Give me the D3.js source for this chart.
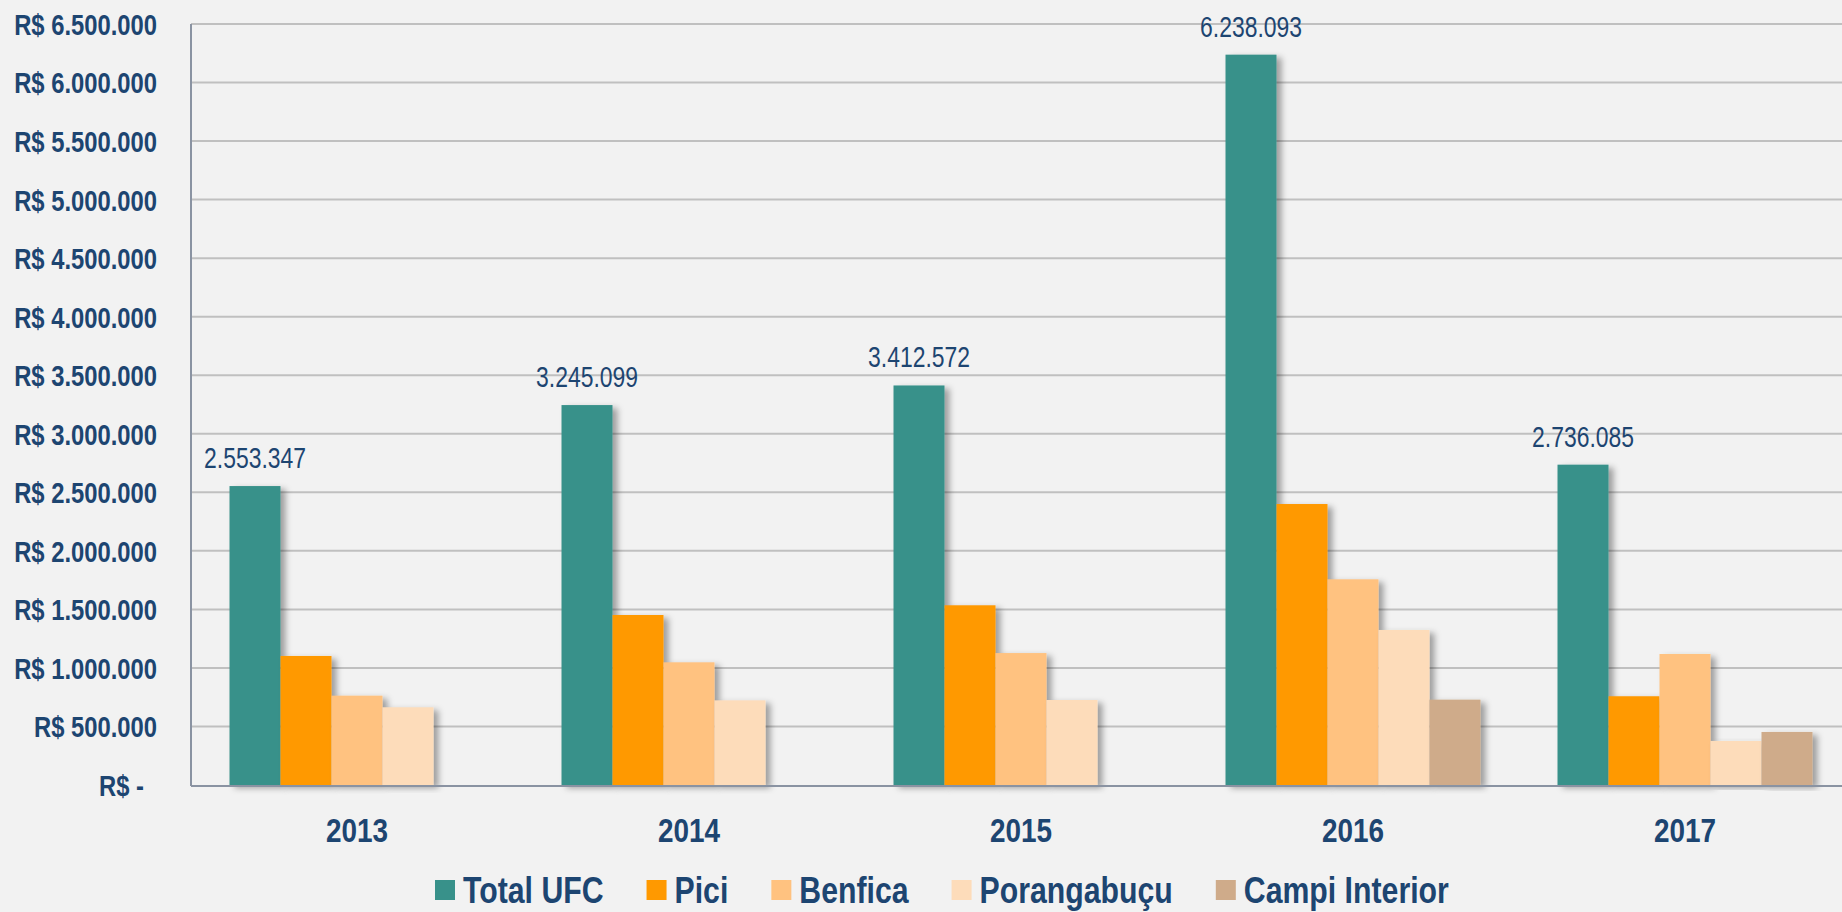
<!DOCTYPE html>
<html>
<head>
<meta charset="utf-8">
<script src="https://cdn.jsdelivr.net/npm/d3@7"></script>
<style>
  html, body { margin: 0; padding: 0; background: #f2f2f2; }
  svg { display: block; }
  text { font-family: "Liberation Sans Narrow", "Arial Narrow", "Liberation Sans", Arial, sans-serif; fill: #1d4571; }
</style>
</head>
<body>
<svg id="chart"></svg>
<script>
// categories and series
const years = ['2013', '2014', '2015', '2016', '2017']
const seriesNames = ['Total UFC', 'Pici', 'Benfica', 'Porangabuçu', 'Campi Interior']
const seriesColors = ['#38918a', '#ff9900', '#ffc280', '#fddcba', '#cfab8a']

// values (only Total UFC is printed)
const totalUFC = [2553347, 3245099, 3412572, 6238093, 2736085]
const pici = [1102000, 1452000, 1535000, 2400000, 758000]
const benfica = [763000, 1048000, 1127000, 1757000, 1119000]
const porangabucu = [664000, 723000, 726000, 1324000, 376000]
const campiInterior = [null, null, null, 729000, 453000]

const yTicks = [0, 500000, 1000000, 1500000, 2000000, 2500000, 3000000, 3500000,
  4000000, 4500000, 5000000, 5500000, 6000000, 6500000]
const yTickLabels = ['R$ -', 'R$ 500.000', 'R$ 1.000.000', 'R$ 1.500.000', 'R$ 2.000.000',
  'R$ 2.500.000', 'R$ 3.000.000', 'R$ 3.500.000', 'R$ 4.000.000', 'R$ 4.500.000',
  'R$ 5.000.000', 'R$ 5.500.000', 'R$ 6.000.000', 'R$ 6.500.000']

const allSeries = [totalUFC, pici, benfica, porangabucu, campiInterior]

const W = 1842, H = 912
const plot = { left: 191, right: 1851, top: 24, bottom: 785 }

// the original text is a narrow face; squeeze the regular one if that is what we got
function squeeze(sel, ratio) {
  sel.each(function() {
    const w = this.getComputedTextLength()
    d3.select(this).attr('textLength', w * ratio).attr('lengthAdjust', 'spacingAndGlyphs')
  })
}

const svg = d3.select('#chart').attr('width', W).attr('height', H)

// drop shadow for the bars
const defs = svg.append('defs')
const f = defs.append('filter').attr('id', 'shadow')
  .attr('x', '-20%').attr('y', '-5%').attr('width', '150%').attr('height', '115%')
f.append('feDropShadow').attr('dx', 5).attr('dy', 3).attr('stdDeviation', 3)
  .attr('flood-color', '#000').attr('flood-opacity', 0.35)

const x0 = d3.scaleBand()
  .domain(years)
  .range([plot.left, plot.right])
  .paddingInner(0.232)
  .paddingOuter(0.116)

const x1 = d3.scaleBand()
  .domain(seriesNames)
  .range([0, x0.bandwidth()])

const y = d3.scaleLinear()
  .domain([0, 6500000])
  .range([plot.bottom, plot.top])

// gridlines
svg.append('g')
  .selectAll('line')
  .data(yTicks.slice(1))
  .join('line')
  .attr('x1', plot.left).attr('x2', W)
  .attr('y1', d => y(d)).attr('y2', d => y(d))
  .attr('stroke', '#c0c0c0').attr('stroke-width', 2)

// y axis labels
const yAxis = d3.axisLeft(y)
  .tickValues(yTicks)
  .tickFormat((d, i) => yTickLabels[i])
  .tickSize(0)
  .tickPadding(34)

const yg = svg.append('g')
  .attr('transform', `translate(${plot.left},0)`)
  .call(yAxis)
yg.select('.domain').remove()
yg.selectAll('text')
  .attr('fill', '#1d4571')
  .style('font-size', '29px')
  .style('font-weight', 'bold')
  .attr('dy', '0.36em')
  .attr('dx', (d, i) => i === 0 ? -13 : 0)
  .call(squeeze, 0.82)

// bars
const rows = []
years.forEach((yr, i) => {
  seriesNames.forEach((s, j) => {
    const v = allSeries[j][i]
    if (v != null) rows.push({ year: yr, series: s, color: seriesColors[j], value: v })
  })
})

svg.append('g')
  .selectAll('rect')
  .data(rows)
  .join('rect')
  .attr('x', d => x0(d.year) + x1(d.series))
  .attr('y', d => y(d.value))
  .attr('width', x1.bandwidth())
  .attr('height', d => y(0) - y(d.value))
  .attr('fill', d => d.color)
  .attr('filter', 'url(#shadow)')

// data labels for Total UFC
svg.append('g')
  .selectAll('text')
  .data(years)
  .join('text')
  .attr('x', (d, i) => x0(d) + x1('Total UFC') + x1.bandwidth() / 2)
  .attr('y', (d, i) => y(totalUFC[i]) - 18)
  .attr('text-anchor', 'middle')
  .style('font-size', '29px')
  .text((d, i) => d3.format(',')(totalUFC[i]).replace(/,/g, '.'))
  .call(squeeze, 0.79)

// axis lines
svg.append('line')
  .attr('x1', plot.left).attr('x2', plot.left)
  .attr('y1', plot.top).attr('y2', plot.bottom + 1)
  .attr('stroke', '#8a93a2').attr('stroke-width', 2)
svg.append('line')
  .attr('x1', plot.left).attr('x2', W)
  .attr('y1', plot.bottom + 1).attr('y2', plot.bottom + 1)
  .attr('stroke', '#8a93a2').attr('stroke-width', 2)

// x axis labels
const xAxis = d3.axisBottom(x0).tickSize(0).tickPadding(0)
const xg = svg.append('g')
  .attr('transform', `translate(0,${plot.bottom})`)
  .call(xAxis)
xg.select('.domain').remove()
xg.selectAll('text')
  .attr('fill', '#1d4571')
  .attr('y', 57)
  .attr('dy', 0)
  .style('font-size', '34px')
  .style('font-weight', 'bold')
  .call(squeeze, 0.82)

// legend
const legend = svg.append('g')
let lx = 435
seriesNames.forEach((s, j) => {
  legend.append('rect')
    .attr('x', lx).attr('y', 880)
    .attr('width', 20).attr('height', 20)
    .attr('fill', seriesColors[j])
  const t = legend.append('text')
    .attr('x', lx + 28).attr('y', 903)
    .style('font-size', '36px')
    .style('font-weight', 'bold')
    .text(s)
  const w = t.node().getComputedTextLength() * 0.84
  t.attr('textLength', w).attr('lengthAdjust', 'spacingAndGlyphs')
  lx += 28 + w + 43
})
</script>
</body>
</html>
